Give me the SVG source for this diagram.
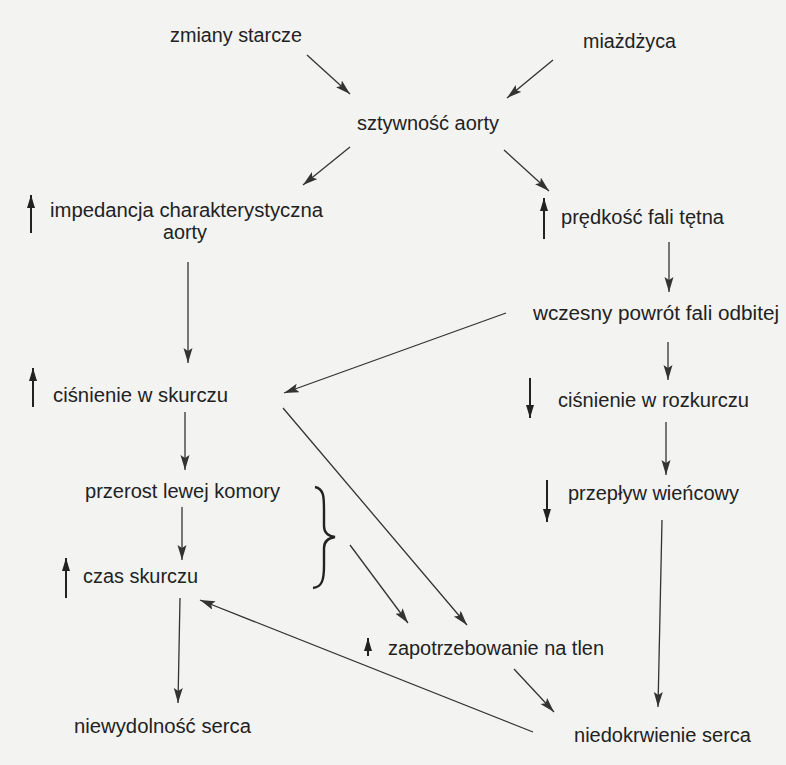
<svg xmlns="http://www.w3.org/2000/svg" width="786" height="765" viewBox="0 0 786 765">
<style>
text{font-family:"Liberation Sans",Arial,sans-serif;font-size:19.5px;fill:#222}
.c{stroke:#333;stroke-width:1.3;fill:none;marker-end:url(#ah)}
.ind{stroke:#222;stroke-width:2;fill:none;marker-end:url(#ahb)}
</style>
<defs>
<marker id="ah" markerUnits="userSpaceOnUse" markerWidth="18" markerHeight="10" refX="15" refY="4.5" orient="auto">
<path d="M0,0 L15,4.5 L0,9 L3,4.5 z" fill="#333"/>
</marker>
<marker id="ahb" markerUnits="userSpaceOnUse" markerWidth="16" markerHeight="10" refX="13" refY="4" orient="auto">
<path d="M0,0 L13,4 L0,8 z" fill="#222"/>
</marker>
</defs>
<rect width="786" height="765" fill="#f3f3f2"/>

<g id="n-zmiany"><text x="170" y="42" textLength="132" lengthAdjust="spacingAndGlyphs">zmiany starcze</text></g>
<g id="n-miazdzyca"><text x="583" y="48" textLength="93" lengthAdjust="spacingAndGlyphs">miażdżyca</text></g>
<g id="n-sztywnosc"><text x="357" y="130" textLength="142" lengthAdjust="spacingAndGlyphs">sztywność aorty</text></g>
<g id="n-impedancja">
<line class="ind" x1="31" y1="233" x2="31" y2="195"/>
<text><tspan x="50" y="217" textLength="273" lengthAdjust="spacingAndGlyphs">impedancja charakterystyczna</tspan><tspan x="163" y="239" textLength="44" lengthAdjust="spacingAndGlyphs">aorty</tspan></text>
</g>
<g id="n-predkosc">
<line class="ind" x1="544" y1="239" x2="544" y2="198"/>
<text x="561" y="224" textLength="163" lengthAdjust="spacingAndGlyphs">prędkość fali tętna</text>
</g>
<g id="n-wczesny"><text x="533" y="320" textLength="246" lengthAdjust="spacingAndGlyphs">wczesny powrót fali odbitej</text></g>
<g id="n-cisn-skurcz">
<line class="ind" x1="33" y1="407" x2="33" y2="368"/>
<text x="53" y="402" textLength="175" lengthAdjust="spacingAndGlyphs">ciśnienie w skurczu</text>
</g>
<g id="n-cisn-rozkurcz">
<line class="ind" x1="530" y1="378" x2="530" y2="418"/>
<text x="558" y="407" textLength="191" lengthAdjust="spacingAndGlyphs">ciśnienie w rozkurczu</text>
</g>
<g id="n-przerost"><text x="85" y="498" textLength="195" lengthAdjust="spacingAndGlyphs">przerost lewej komory</text></g>
<g id="n-przeplyw">
<line class="ind" x1="547" y1="480" x2="547" y2="522"/>
<text x="568" y="500" textLength="171" lengthAdjust="spacingAndGlyphs">przepływ wieńcowy</text>
</g>
<g id="n-czas">
<line class="ind" x1="66" y1="598" x2="66" y2="558"/>
<text x="83" y="583" textLength="115" lengthAdjust="spacingAndGlyphs">czas skurczu</text>
</g>
<g id="n-zapotrzebowanie">
<line class="ind" x1="368" y1="656" x2="368" y2="638"/>
<text x="388" y="655" textLength="216" lengthAdjust="spacingAndGlyphs">zapotrzebowanie na tlen</text>
</g>
<g id="n-niewydolnosc"><text x="74" y="733" textLength="177" lengthAdjust="spacingAndGlyphs">niewydolność serca</text></g>
<g id="n-niedokrwienie"><text x="574" y="742" textLength="177" lengthAdjust="spacingAndGlyphs">niedokrwienie serca</text></g>

<g id="brace"><path d="M315,487 C324,489 324,497 324,510 L324,526 C324,533 328,536 335,537 C328,538 324,541 324,548 L324,566 C324,580 322,587 313,588" fill="none" stroke="#222" stroke-width="2.4"/></g>

<g id="connectors">
<line class="c" x1="307" y1="55" x2="350" y2="94"/>
<line class="c" x1="553" y1="60" x2="507" y2="98"/>
<line class="c" x1="350" y1="147" x2="303" y2="185"/>
<line class="c" x1="504" y1="150" x2="549" y2="191"/>
<line class="c" x1="669" y1="242" x2="669" y2="292"/>
<line class="c" x1="188" y1="262" x2="188" y2="363"/>
<line class="c" x1="506" y1="313" x2="284" y2="393"/>
<line class="c" x1="668" y1="342" x2="668" y2="380"/>
<line class="c" x1="185" y1="412" x2="185" y2="470"/>
<line class="c" x1="283" y1="408" x2="467" y2="625"/>
<line class="c" x1="666" y1="422" x2="666" y2="475"/>
<line class="c" x1="182" y1="507" x2="182" y2="560"/>
<line class="c" x1="662" y1="520" x2="658" y2="707"/>
<line class="c" x1="350" y1="545" x2="408" y2="623"/>
<line class="c" x1="180" y1="598" x2="178" y2="703"/>
<line class="c" x1="533" y1="732" x2="200" y2="600"/>
<line class="c" x1="514" y1="669" x2="554" y2="712"/>
</g>
</svg>
